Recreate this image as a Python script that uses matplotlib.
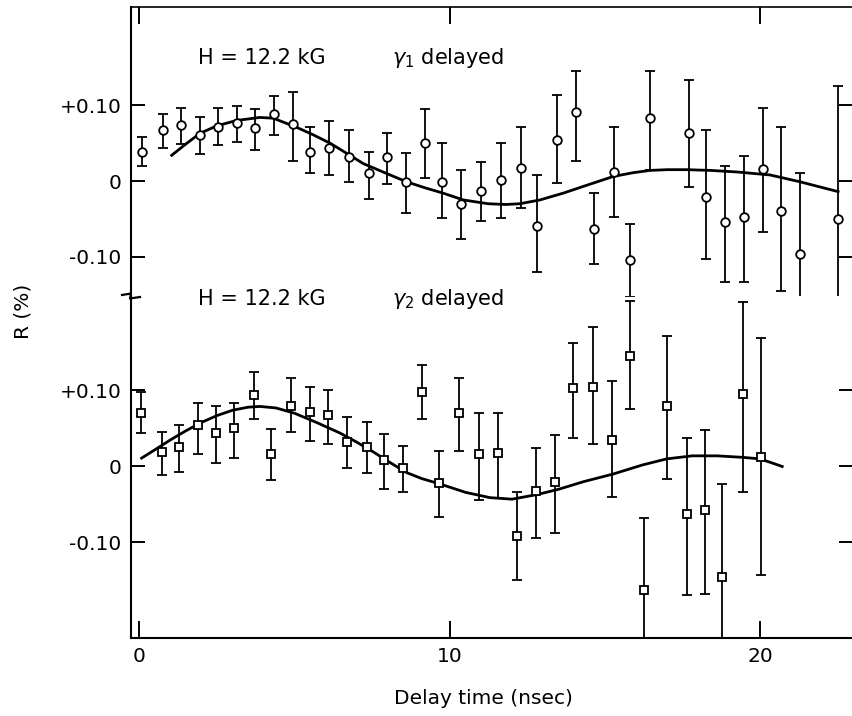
import matplotlib
matplotlib.use("Agg")
import matplotlib.pyplot as plt
from matplotlib.lines import Line2D

plt.rcParams['font.family'] = ['DejaVu Sans']
plt.rcParams['mathtext.fontset'] = 'dejavusans'

# ---------------- data: gamma-1 delayed (upper panel) ----------------
t1 = [0.09, 0.77, 1.33, 1.95, 2.54, 3.13, 3.73, 4.33, 4.94, 5.51, 6.11, 6.74,
      7.38, 7.97, 8.58, 9.19, 9.75, 10.36, 10.99, 11.63, 12.28, 12.82, 13.44,
      14.05, 14.65, 15.28, 15.81, 16.44, 17.70, 18.25, 18.86, 19.47, 20.09,
      20.66, 21.27, 22.51]
r1 = [0.039, 0.067, 0.074, 0.061, 0.072, 0.076, 0.070, 0.088, 0.075, 0.039,
      0.043, 0.032, 0.011, 0.032, -0.001, 0.050, -0.001, -0.030, -0.013,
      0.001, 0.017, -0.059, 0.054, 0.091, -0.063, 0.012, -0.104, 0.083,
      0.063, -0.021, -0.054, -0.047, 0.016, -0.039, -0.097, -0.050]
r1_hi = [0.058, 0.088, 0.097, 0.084, 0.097, 0.099, 0.095, 0.112, 0.118, 0.071,
         0.079, 0.067, 0.039, 0.063, 0.037, 0.095, 0.050, 0.014, 0.025,
         0.050, 0.071, 0.008, 0.113, 0.146, -0.016, 0.071, -0.057, 0.146,
         0.133, 0.067, 0.020, 0.033, 0.096, 0.071, 0.011, 0.125]
r1_lo = [0.020, 0.043, 0.049, 0.036, 0.047, 0.051, 0.041, 0.061, 0.026, 0.011,
         0.008, -0.001, -0.024, -0.004, -0.042, 0.004, -0.049, -0.076, -0.053,
         -0.049, -0.036, -0.120, -0.003, 0.026, -0.109, -0.047, -0.153, 0.014,
         -0.008, -0.103, -0.134, -0.134, -0.067, -0.145, -0.207, -0.221]

fit1_t = [1.04, 1.50, 1.95, 2.50, 3.13, 3.88, 4.31, 5.06, 5.60, 6.14, 6.70,
          7.21, 7.90, 8.60, 9.20, 9.78, 10.43, 11.23, 11.80, 12.25, 12.90,
          13.65, 14.45, 15.26, 15.90, 16.44, 17.00, 17.62, 18.40, 19.23,
          20.31, 21.27, 22.50]
fit1_r = [0.034, 0.049, 0.063, 0.073, 0.080, 0.084, 0.083, 0.071, 0.061,
          0.050, 0.036, 0.023, 0.011, -0.001, -0.009, -0.016, -0.025, -0.030,
          -0.031, -0.030, -0.025, -0.016, -0.005, 0.006, 0.011, 0.014, 0.015,
          0.015, 0.014, 0.012, 0.008, -0.001, -0.014]

# ---------------- data: gamma-2 delayed (lower panel) ----------------
t2 = [0.05, 0.72, 1.29, 1.90, 2.46, 3.06, 3.70, 4.25, 4.89, 5.49, 6.08, 6.67,
      7.32, 7.87, 8.48, 9.11, 9.66, 10.30, 10.93, 11.54, 12.15, 12.77, 13.38,
      13.95, 14.61, 15.21, 15.80, 16.25, 17.00, 17.62, 18.22, 18.76, 19.45,
      20.02]
r2 = [0.071, 0.019, 0.025, 0.054, 0.044, 0.050, 0.094, 0.016, 0.080, 0.072,
      0.068, 0.032, 0.025, 0.009, -0.002, 0.098, -0.022, 0.070, 0.016, 0.018,
      -0.091, -0.032, -0.021, 0.103, 0.105, 0.035, 0.146, -0.162, 0.080,
      -0.062, -0.057, -0.146, 0.096, 0.013]
r2_hi = [0.098, 0.046, 0.054, 0.084, 0.079, 0.084, 0.124, 0.049, 0.117, 0.104,
         0.101, 0.065, 0.058, 0.043, 0.027, 0.133, 0.021, 0.116, 0.071, 0.071,
         -0.033, 0.024, 0.041, 0.162, 0.183, 0.112, 0.218, -0.068, 0.172,
         0.037, 0.048, -0.023, 0.216, 0.169]
r2_lo = [0.044, -0.011, -0.007, 0.017, 0.004, 0.011, 0.062, -0.018, 0.045,
         0.034, 0.030, -0.002, -0.008, -0.029, -0.033, 0.062, -0.067, 0.021,
         -0.044, -0.042, -0.150, -0.094, -0.088, 0.037, 0.030, -0.040, 0.076,
         -0.240, -0.016, -0.169, -0.168, -0.240, -0.033, -0.143]

fit2_t = [0.07, 0.50, 1.00, 1.50, 2.00, 2.50, 3.00, 3.50, 3.88, 4.40, 5.00,
          5.70, 6.46, 7.00, 7.50, 8.00, 8.60, 9.10, 9.68, 10.50, 11.29, 12.00,
          12.80, 13.50, 14.30, 15.25, 16.20, 16.98, 17.80, 18.60, 19.44,
          19.98, 20.35, 20.70]
fit2_r = [0.011, 0.022, 0.035, 0.047, 0.058, 0.067, 0.074, 0.078, 0.079,
          0.077, 0.070, 0.058, 0.044, 0.032, 0.020, 0.007, -0.008, -0.016,
          -0.023, -0.034, -0.041, -0.043, -0.037, -0.030, -0.020, -0.010,
          0.002, 0.010, 0.014, 0.014, 0.012, 0.010, 0.005, 0.000]

xticks = [0, 10, 20]
xtick_labels = ["0", "10", "20"]
yticks = [0.10, 0.0, -0.10]
ytick_labels_top = ["+0.10", "0", "-0.10"]
ytick_labels_bot = ["+0.10", "0", "-0.10"]

# ---------------- figure ----------------
W, H = 853, 716
fig = plt.figure(figsize=(W / 100, H / 100), dpi=100)

def fx(px):
    return px / W

def fy(py):
    return 1 - py / H

left_px, right_px = 131, 853
top_px, brk_px, bot_px = 7, 296, 637.5
xlim = (-0.27, 22.98)

ax1 = fig.add_axes([fx(left_px), fy(brk_px), fx(right_px - left_px), (brk_px - top_px) / H])
ax2 = fig.add_axes([fx(left_px), fy(bot_px), fx(right_px - left_px), (bot_px - brk_px) / H])

ax1.set_ylim(-0.1519, 0.2299)
ax2.set_ylim(-0.225, 0.2243)

lw_sp = 1.5
for ax in (ax1, ax2):
    ax.set_xlim(*xlim)
    ax.set_xticks(xticks)
    ax.set_yticks(yticks)
    ax.spines['right'].set_visible(False)
    ax.spines['left'].set_linewidth(lw_sp)
    ax.tick_params(axis='both', direction='in', length=10, width=1.4,
                   labelsize=14.5, pad=7)
    ax.tick_params(axis='y', right=True, left=True)
    ax.patch.set_alpha(0)

ax1.spines['bottom'].set_visible(False)
ax1.spines['top'].set_linewidth(1.2)
ax1.tick_params(axis='x', top=True, bottom=False, labelbottom=False, length=12)
ax1.set_yticklabels(ytick_labels_top)

ax2.spines['top'].set_visible(False)
ax2.spines['bottom'].set_linewidth(lw_sp)
ax2.tick_params(axis='x', top=False, bottom=True, length=12)
ax2.set_xticklabels(xtick_labels)
ax2.set_yticklabels(ytick_labels_bot)

eb_kw = dict(fmt='none', ecolor='black', elinewidth=1.3, capsize=3.6,
             capthick=1.3)

# upper panel
err1 = [[v - l for v, l in zip(r1, r1_lo)], [h - v for v, h in zip(r1, r1_hi)]]
ax1.errorbar(t1, r1, yerr=err1, **eb_kw)
ax1.plot(fit1_t, fit1_r, color='black', lw=2.0, zorder=3)
ax1.plot(t1, r1, 'o', ms=6.2, mfc='white', mec='black', mew=1.3, zorder=4)

# lower panel
err2 = [[v - l for v, l in zip(r2, r2_lo)], [h - v for v, h in zip(r2, r2_hi)]]
ax2.errorbar(t2, r2, yerr=err2, **eb_kw)
ax2.plot(fit2_t, fit2_r, color='black', lw=2.0, zorder=3)
ax2.plot(t2, r2, 's', ms=6.2, mfc='white', mec='black', mew=1.3, zorder=4)

# panel captions
ax1.text(1.88, 0.163, "H = 12.2 kG", fontsize=15, ha='left', va='center')
ax1.text(8.13, 0.163, "$\\gamma_1$ delayed", fontsize=15, ha='left', va='center')
ax2.text(1.88, 0.221, "H = 12.2 kG", fontsize=15, ha='left', va='center')
ax2.text(8.13, 0.221, "$\\gamma_2$ delayed", fontsize=15, ha='left', va='center')

fig.text(fx(23), fy(311), "R (%)", rotation=90, fontsize=14.5,
         ha='center', va='center')
fig.text(fx(483), fy(699), "Delay time (nsec)", fontsize=14.5,
         ha='center', va='center')

# axis break mark on left spine
brk = Line2D([fx(122), fx(131), fx(130), fx(140)],
             [fy(295), fy(293.5), fy(298.5), fy(297)],
             transform=fig.transFigure, color='black', lw=1.6)
fig.add_artist(brk)

fig.savefig("out.png", dpi=100)
